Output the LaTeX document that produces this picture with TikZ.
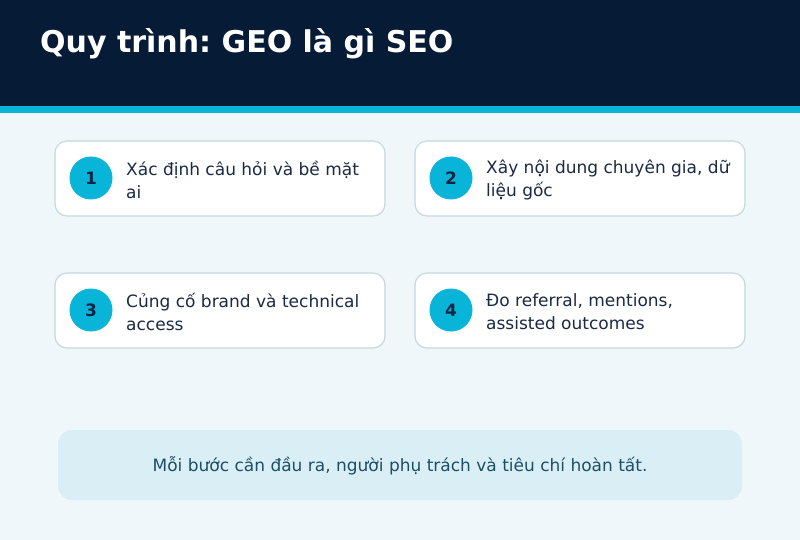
\documentclass[tikz,border=0pt]{standalone}
\usepackage{fontspec}
\setmainfont{DejaVu Sans}
\frenchspacing
\definecolor{navy}{HTML}{061B35}
\definecolor{cyanbar}{HTML}{08B4D8}
\definecolor{pagebg}{HTML}{F0F7FA}
\definecolor{cardline}{HTML}{C3D8DF}
\definecolor{ink}{HTML}{1B2A44}
\definecolor{numink}{HTML}{0B2545}
\definecolor{notefill}{HTML}{D9EFF5}
\definecolor{noteink}{HTML}{1D4E68}
\tikzset{
  card/.style={draw=cardline, line width=1.2pt, fill=white, rounded corners=12pt},
  badge/.style={circle, fill=cyanbar, minimum size=43pt, inner sep=0pt, text=numink, font=\bfseries\fontsize{17}{20}\selectfont},
  cardtext/.style={anchor=west, align=left, inner sep=0pt, text=ink, font=\fontsize{17}{23}\selectfont},
}
\begin{document}
\begin{tikzpicture}[x=1pt,y=-1pt]
\useasboundingbox (0,0) rectangle (800,540);
\fill[pagebg] (0,0) rectangle (800,540);
\fill[navy] (0,0) rectangle (800,106);
\fill[cyanbar] (0,106) rectangle (800,113);
\node[anchor=base west, inner sep=0pt, text=white, font=\bfseries\fontsize{30}{34}\selectfont] (title) at (40,53) {Quy trình: GEO là gì SEO};
% cards
\draw[card] (55,141) rectangle (385,216);
\draw[card] (415,141) rectangle (745,216);
\draw[card] (55,273) rectangle (385,348);
\draw[card] (415,273) rectangle (745,348);
\node[badge] (b1) at (91,178) {1};
\node[badge] (b2) at (451,178) {2};
\node[badge] (b3) at (91,310) {3};
\node[badge] (b4) at (451,310) {4};
\node[cardtext] (t1) at (126,180) {Xác định câu hỏi và bề mặt\\ai};
\node[cardtext] (t2) at (486,180) {Xây nội dung chuyên gia, dữ\\liệu gốc};
\node[cardtext] (t3) at (126,312) {Củng cố brand và technical\\access};
\node[cardtext] (t4) at (486,312) {Đo referral, mentions,\\assisted outcomes};
% note
\fill[notefill, rounded corners=14pt] (58,430) rectangle (742,500);
\node[inner sep=0pt, text=noteink, font=\fontsize{17}{20}\selectfont] (note) at (400,466) {Mỗi bước cần đầu ra, người phụ trách và tiêu chí hoàn tất.};
\end{tikzpicture}
\end{document}
